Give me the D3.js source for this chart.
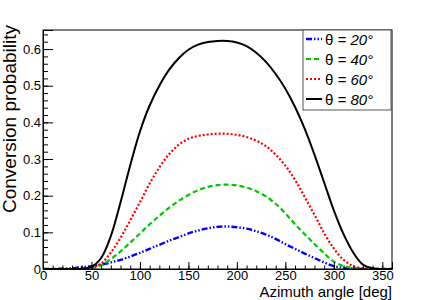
<!DOCTYPE html>
<html>
<head>
<meta charset="utf-8">
<script src="https://cdn.jsdelivr.net/npm/d3@7"></script>
<style>
  body { margin: 0; background: #fff; }
  svg { display: block; font-family: "Liberation Sans", Arial, sans-serif; }
</style>
</head>
<body>
<div id="chart"></div>
<script>
// azimuth angle samples (deg)
const angles = d3.range(0, 361, 10);
const seriesNames = ['20', '40', '60', '80'];
// conversion probability, one value per angle
const theta20 = [0, 0, 0.001, 0.002, 0.005, 0.008, 0.012, 0.018, 0.025, 0.034, 0.044, 0.055, 0.066, 0.077, 0.087, 0.097, 0.105, 0.111, 0.115, 0.116, 0.114, 0.11, 0.103, 0.094, 0.082, 0.068, 0.055, 0.042, 0.03, 0.018, 0.008, 0.003, 0.001, 0, 0, 0, 0];
const theta40 = [0, 0, 0, 0, 0, 0.002, 0.01, 0.027, 0.048, 0.072, 0.097, 0.122, 0.145, 0.167, 0.186, 0.202, 0.215, 0.224, 0.229, 0.23, 0.228, 0.222, 0.212, 0.198, 0.178, 0.152, 0.122, 0.095, 0.068, 0.043, 0.02, 0.008, 0.003, 0.001, 0, 0, 0];
const theta60 = [0, 0, 0, 0, 0, 0.003, 0.015, 0.045, 0.085, 0.133, 0.182, 0.233, 0.277, 0.313, 0.339, 0.355, 0.363, 0.367, 0.369, 0.369, 0.366, 0.36, 0.35, 0.335, 0.312, 0.282, 0.243, 0.196, 0.148, 0.098, 0.056, 0.025, 0.008, 0.002, 0, 0, 0];
const theta80 = [0, 0, 0, 0, 0.001, 0.006, 0.03, 0.09, 0.182, 0.283, 0.375, 0.446, 0.5, 0.543, 0.575, 0.598, 0.612, 0.619, 0.622, 0.622, 0.618, 0.608, 0.59, 0.565, 0.532, 0.492, 0.442, 0.382, 0.312, 0.236, 0.16, 0.095, 0.045, 0.012, 0.002, 0, 0];
const xTicks = [0, 50, 100, 150, 200, 250, 300, 350];
const yTicks = [0, 0.1, 0.2, 0.3, 0.4, 0.5, 0.6];

const W = 436, H = 300;
const margin = { top: 30, right: 44, bottom: 31, left: 43 };
const w = W - margin.left - margin.right;
const h = H - margin.top - margin.bottom;

const svg = d3.select('#chart').append('svg').attr('width', W).attr('height', H);
const g = svg.append('g').attr('transform', `translate(${margin.left},${margin.top})`);

const x = d3.scaleLinear().domain([0, 360]).range([0, w]);
const y = d3.scaleLinear().domain([0, 0.652]).range([h, 0]);

const series = [
  { name: seriesNames[0], values: theta20, color: '#0000ff', dash: '6,2,1.5,2,1.5,2', width: 2.4 },
  { name: seriesNames[1], values: theta40, color: '#00c800', dash: '5,3', width: 2.2 },
  { name: seriesNames[2], values: theta60, color: '#ff0000', dash: '2,2', width: 2.2 },
  { name: seriesNames[3], values: theta80, color: '#000000', dash: null, width: 2 }
];

svg.append('defs').append('clipPath').attr('id', 'clip')
  .append('rect').attr('width', w).attr('height', h);

const line = d3.line()
  .x((d, i) => x(angles[i]))
  .y(d => y(d))
  .curve(d3.curveCatmullRom.alpha(0.5));

g.append('g').attr('clip-path', 'url(#clip)')
  .selectAll('path')
  .data(series)
  .enter().append('path')
  .attr('d', d => line(d.values))
  .attr('fill', 'none')
  .attr('stroke', d => d.color)
  .attr('stroke-width', d => d.width)
  .attr('stroke-dasharray', d => d.dash);

// frame
g.append('rect')
  .attr('width', w).attr('height', h)
  .attr('fill', 'none').attr('stroke', '#000').attr('stroke-width', 1);

// x axis, ticks pointing inward
const xAxis = g.append('g').attr('transform', `translate(0,${h})`)
  .call(d3.axisBottom(x).tickValues(xTicks).tickSize(-7).tickPadding(2).tickFormat(d3.format('d')));
g.append('g').attr('transform', `translate(0,${h})`)
  .call(d3.axisBottom(x).tickValues(d3.range(0, 361, 10)).tickSize(-3.5).tickFormat(''))
  .call(s => s.select('.domain').remove());

const yAxis = g.append('g')
  .call(d3.axisLeft(y).tickValues(yTicks).tickSize(-10).tickPadding(2).tickFormat(d => d === 0 ? '0' : d3.format('.1f')(d)));
g.append('g')
  .call(d3.axisLeft(y).tickValues(d3.range(0, 0.651, 0.02)).tickSize(-5).tickFormat(''))
  .call(s => s.select('.domain').remove());

svg.selectAll('.tick line').attr('stroke', '#000');
svg.selectAll('.domain').attr('stroke', '#000');
xAxis.selectAll('text').attr('font-size', 13).attr('fill', '#000').attr('font-family', '"Liberation Sans", Arial, sans-serif');
yAxis.selectAll('text').attr('font-size', 13).attr('fill', '#000').attr('font-family', '"Liberation Sans", Arial, sans-serif');

// axis titles
svg.append('text')
  .attr('x', margin.left + w)
  .attr('y', 296.8)
  .attr('text-anchor', 'end')
  .attr('font-size', 15)
  .text('Azimuth angle [deg]');

svg.append('text')
  .attr('transform', `translate(16,25) rotate(-90)`)
  .attr('text-anchor', 'end')
  .attr('font-size', 19)
  .text('Conversion probability');

// legend
const legend = svg.append('g').attr('transform', 'translate(303,30)');
legend.append('rect')
  .attr('width', 88).attr('height', 80)
  .attr('fill', '#fff').attr('stroke', '#555').attr('stroke-width', 1);
const item = legend.selectAll('g.item')
  .data(series)
  .enter().append('g').attr('class', 'item')
  .attr('transform', (d, i) => `translate(0,${9 + i * 20})`);
item.append('line')
  .attr('x1', 3).attr('x2', 19)
  .attr('stroke', d => d.color)
  .attr('stroke-width', d => d.width)
  .attr('stroke-dasharray', d => d.dash);
const lt = item.append('text')
  .attr('x', 22).attr('y', 5.5)
  .attr('font-size', 15);
lt.append('tspan').text('θ');
lt.append('tspan').attr('font-style', 'italic').text(d => ` = ${d.name}°`);
</script>
</body>
</html>
